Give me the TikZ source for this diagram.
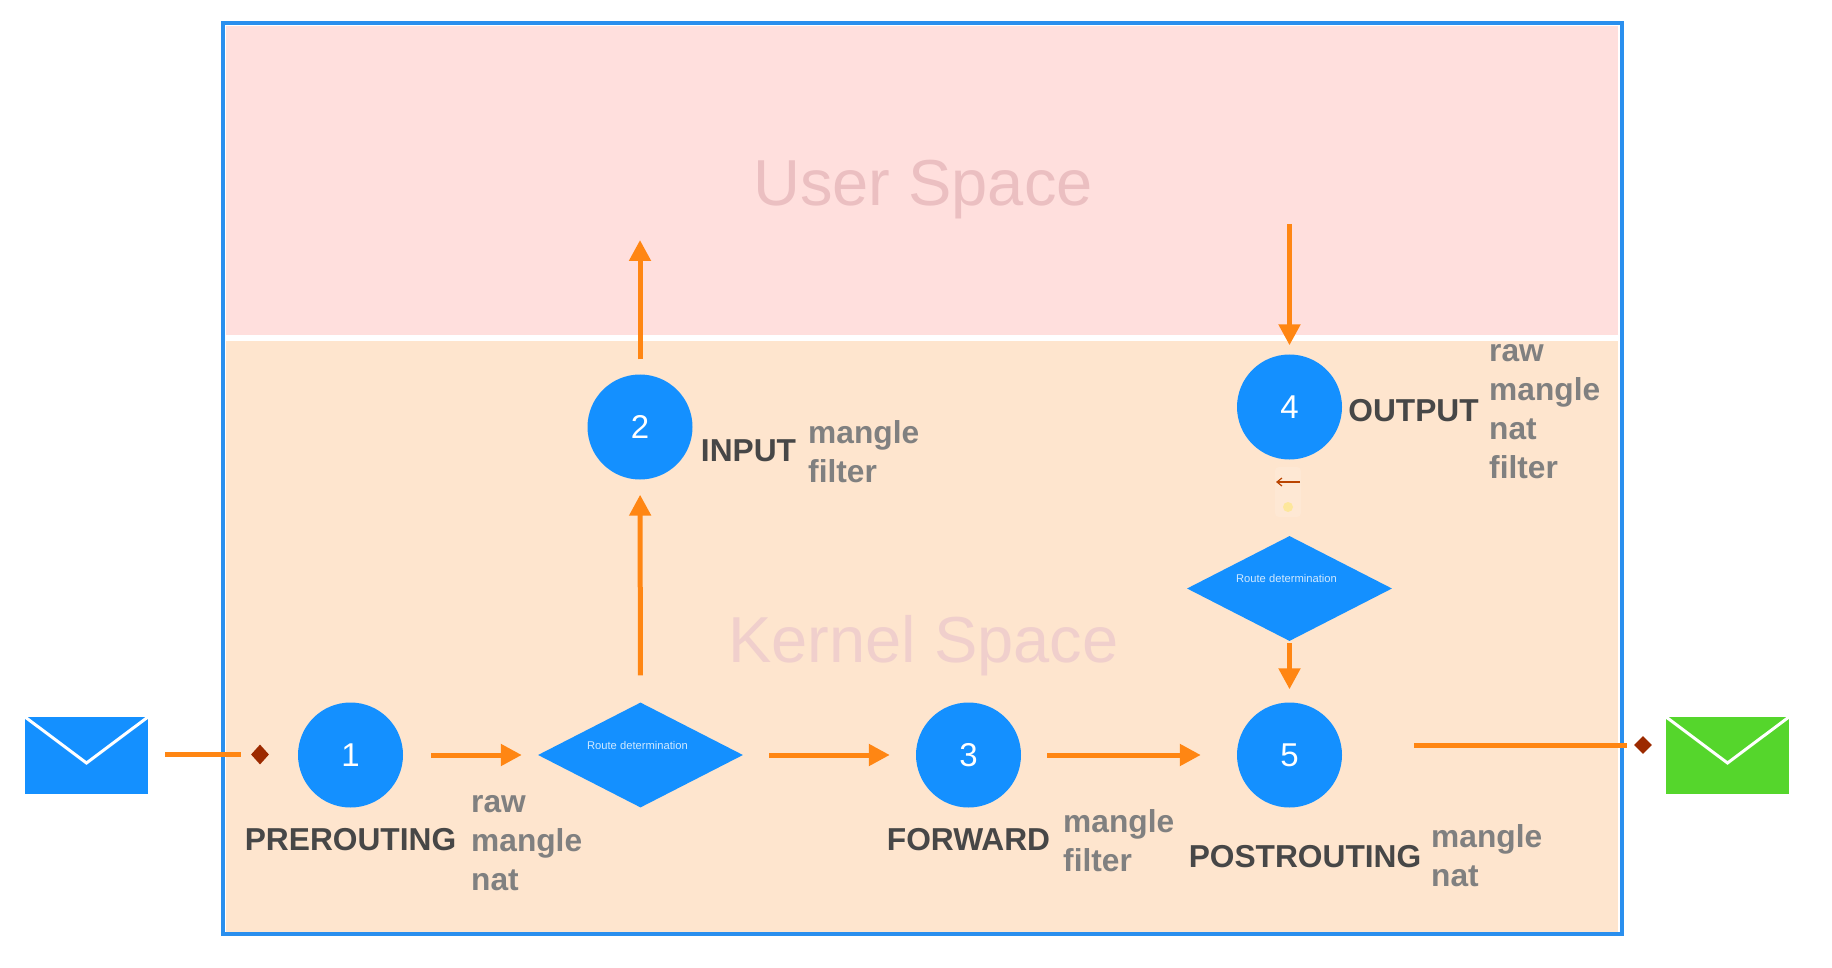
\documentclass[tikz,border=0pt]{standalone}
\usepackage{fontspec}
\setmainfont{Liberation Sans}
\usetikzlibrary{arrows.meta,positioning,shapes.geometric}
\definecolor{hookblue}{HTML}{1490FF}
\definecolor{frameblue}{HTML}{2A8FEE}
\definecolor{userbg}{HTML}{FFDFDD}
\definecolor{kernelbg}{HTML}{FEE5CE}
\definecolor{usertext}{HTML}{EBBFC1}
\definecolor{kerneltext}{HTML}{F0CFCC}
\definecolor{flowor}{HTML}{FF8613}
\definecolor{markred}{HTML}{9C2A00}
\definecolor{mailgreen}{HTML}{55D62C}
\tikzset{
    %Define standard arrow tip
    >={Triangle[length=21pt,width=21pt]},
    %Define style for hook circles
    hook/.style={
           circle,
           fill=hookblue,
           text=white,
           inner sep=0pt,
           minimum size=105pt,
           font=\fontsize{33}{38}\selectfont},
    %Define style for route diamonds
    route/.style={
           diamond,
           aspect=2,
           fill=hookblue,
           inner sep=0pt,
           minimum width=205pt,
           minimum height=105pt},
    routetext/.style={
           text=white!80!hookblue,
           font=\fontsize{11.2}{13}\selectfont},
    %Define style for envelopes
    mail/.style={
           rectangle,
           inner sep=0pt,
           minimum width=123pt,
           minimum height=77pt},
    flap/.style={white,line width=3pt},
    %Define style for small red marks
    mark dot/.style={
           diamond,
           aspect=1,
           fill=markred,
           inner sep=0pt,
           minimum size=18pt},
    %Define style for labels
    chain/.style={
           text=black!72,
           inner sep=0pt,
           font=\fontsize{31.7}{38}\selectfont\bfseries},
    tables/.style={
           text=black!50,
           inner sep=0pt,
           align=left,
           anchor=west,
           font=\fontsize{31.7}{38.8}\selectfont\bfseries},
    space/.style={font=\fontsize{65}{70}\selectfont},
    % Define arrow style
    pil/.style={
           draw=flowor,
           line width=5pt}
}

\begin{document}
\begin{tikzpicture}[x=1pt,y=-1pt]
  \useasboundingbox (0,0) rectangle (1832,968);
  % frame and the two spaces
  \draw[frameblue,line width=4pt,fill=white] (222.7,22.7) rectangle (1621.7,933.5);
  \fill[userbg] (226,26) rectangle (1618,335);
  \fill[kernelbg] (226,341) rectangle (1618,931.5);
  \node[space,text=usertext] (user) at (923,190) {User Space};
  \node[space,text=kerneltext] (kernel) at (923.5,646) {Kernel Space};

  % hooks
  \node[hook] (n1) at (350.5,755) {1};
  \node[hook] (n2) at (640,427) {2};
  \node[hook] (n3) at (968.5,755) {3};
  \node[hook] (n4) at (1289.5,407) {4};
  \node[hook] (n5) at (1289.5,755) {5};
  \node[route] (rd1) at (640.5,755) {};
  \node[route] (rd2) at (1289.5,588.5) {};
  \node[routetext] (rdtext1) at (637.5,745) {Route determination};
  \node[routetext] (rdtext2) at (1286.5,578) {Route determination};

  % envelopes
  \node[mail,fill=hookblue] (mailin) at (86.5,755.5) {};
  \node[mail,fill=mailgreen] (mailout) at (1727.5,755.5) {};
  \coordinate (apexin) at (86.5,763);
  \coordinate (apexout) at (1727.5,763);
  \draw[flap] (mailin.north west) -- (apexin) -- (mailin.north east);
  \draw[flap] (mailout.north west) -- (apexout) -- (mailout.north east);
  \node[mark dot,minimum height=20pt] (markin) at (260,754.5) {};
  \node[mark dot] (markout) at (1643,745) {};

  % free ends
  \coordinate (toinput) at (640,240);
  \coordinate (fromoutput) at (1289.5,224);
  \coordinate (outstart) at (n5.east |- markout);

  % flows
  \draw[pil,shorten <=17pt,shorten >=10pt] (mailin.east |- markin) -- (markin);
  \draw[pil,->,shorten <=28pt,shorten >=16pt] (n1) -- (rd1);
  \draw[pil,->,shorten <=26pt,shorten >=26pt] (rd1) -- (n3);
  \draw[pil,->,shorten <=26pt,shorten >=36pt] (n3) -- (n5);
  \draw[pil,->,shorten <=27pt,shorten >=15pt] (rd1) -- (n2);
  \draw[pil,->,shorten <=15pt] (n2) -- (toinput);
  \draw[pil,->,shorten >=9pt] (fromoutput) -- (n4);
  \draw[pil,->,shorten <=2pt,shorten >=13pt] (rd2) -- (n5);
  \draw[pil,shorten <=72pt,shorten >=7pt] (outstart) -- (markout);

  % the faint mark under hook 4
  \node[fill=white!12!kernelbg,rounded corners=4pt,minimum width=26pt,minimum height=50pt,inner sep=0pt] (ghost) at (1288,492) {};
  \node[circle,fill=yellow!22!kernelbg,minimum size=10pt,inner sep=0pt] (ghostdot) at (1288,507) {};
  \coordinate (ghostright) at (1300,482);
  \coordinate (ghostleft) at (1276,482);
  \draw[-{Straight Barb[length=5pt,width=8pt]},markred!70!orange,line width=1.2pt] (ghostright) -- (ghostleft);

  % labels
  \node[chain] (prerouting) at (350.5,840) {PREROUTING};
  \node[tables] (pretables) at (471,843) {raw\\mangle\\nat};
  \node[chain] (input) at (748.5,451) {INPUT};
  \node[tables] (inputtables) at (808,452) {mangle\\filter};
  \node[chain] (forward) at (968.5,840) {FORWARD};
  \node[tables] (forwardtables) at (1063,841) {mangle\\filter};
  \node[chain] (output) at (1413.5,411) {OUTPUT};
  \node[tables] (outputtables) at (1489,411.5) {raw\\mangle\\nat\\filter};
  \node[chain] (postrouting) at (1305,856.5) {POSTROUTING};
  \node[tables] (posttables) at (1431,856) {mangle\\nat};
\end{tikzpicture}
\end{document}
